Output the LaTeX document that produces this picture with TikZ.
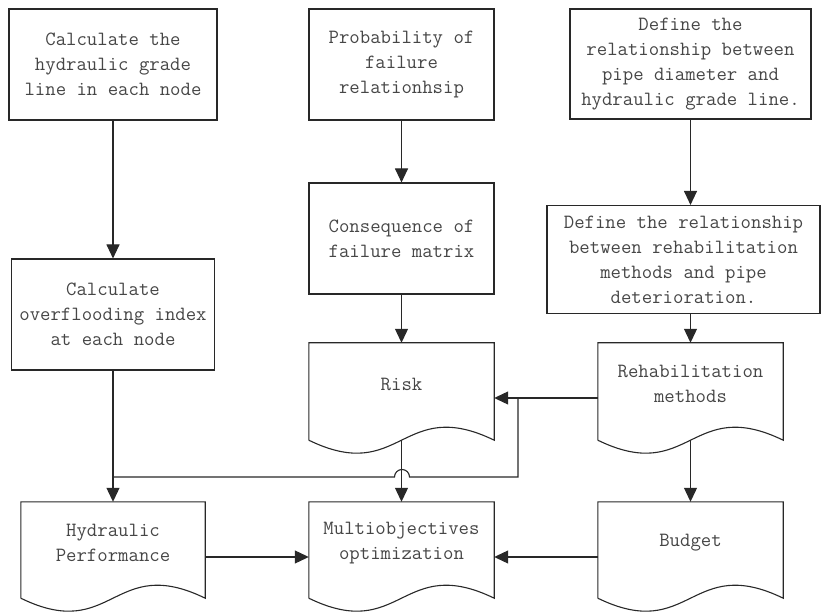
\documentclass[tikz,border=0pt]{standalone}
\usepackage{fontspec}
\usetikzlibrary{arrows.meta,calc}
\definecolor{linec}{RGB}{40,40,40}
\definecolor{textc}{RGB}{70,70,70}
\tikzset{
  box/.style={draw=linec, line width=1.1pt, rectangle, inner sep=0pt, align=center,
    font=\fontsize{20.2}{25}\selectfont\ttfamily, text=textc},
  docframe/.style={rectangle, inner sep=0pt},
  doctext/.style={inner sep=0pt, align=center, font=\fontsize{20.2}{25}\selectfont\ttfamily, text=textc},
  conn/.style={draw=linec, line width=1.1pt},
  arr/.style={conn, -{Triangle[width=13pt,length=14pt]}},
}
\newcommand{\docoutline}[1]{%
  \draw[conn] (#1.south west) -- (#1.north west) -- (#1.north east) -- (#1.south east)
    .. controls ($(#1.south)+(0,-45)$) and ($(#1.south)+(0,45)$) .. (#1.south west);}
\begin{document}
\begin{tikzpicture}[x=1pt,y=-1pt]
\useasboundingbox (0,0) rectangle (822,612);
% rectangles
\node[box, minimum width=208pt, minimum height=111pt] (b1) at (113,64.5)
  {Calculate the\\hydraulic grade\\line in each node};
\node[box, minimum width=185pt, minimum height=111pt] (b2) at (401.5,64.5)
  {Probability of\\failure\\relationhsip};
\node[box, minimum width=241pt, minimum height=110pt] (b3) at (690.5,64)
  {Define the\\relationship between\\pipe diameter and\\hydraulic grade line.};
\node[box, minimum width=273pt, minimum height=108pt] (b4) at (683.5,259.5)
  {Define the relationship\\between rehabilitation\\methods and pipe\\deterioration.};
\node[box, minimum width=185pt, minimum height=111pt] (cons) at (401.5,238.5)
  {Consequence of\\failure matrix};
\node[box, minimum width=203pt, minimum height=111pt] (over) at (113,314.5)
  {Calculate\\overflooding index\\at each node};
% documents
\node[docframe, minimum width=185pt, minimum height=97pt] (risk) at (401.5,391.5) {};
\node[docframe, minimum width=185pt, minimum height=97pt] (rehab) at (690.5,391.5) {};
\node[docframe, minimum width=184pt, minimum height=96pt] (hp) at (113,550) {};
\node[docframe, minimum width=185pt, minimum height=96pt] (multi) at (401.5,550) {};
\node[docframe, minimum width=185pt, minimum height=96pt] (budget) at (690.5,550) {};
\docoutline{risk}
\docoutline{rehab}
\docoutline{hp}
\docoutline{multi}
\docoutline{budget}
\node[doctext] (riskt) at (401.5,384) {Risk};
\node[doctext] (rehabt) at (690.5,384) {Rehabilitation\\methods};
\node[doctext] (hpt) at (113,543) {Hydraulic\\Performance};
\node[doctext] (multit) at (401.5,543) {Multiobjectives\\optimization};
\node[doctext] (budgett) at (690.5,543) {Budget};
% coordinates
\coordinate (j1) at (518,398);
\coordinate (j2) at (518,477);
\coordinate (j3) at (113,477);
\coordinate (jr) at (409.5,477);
\coordinate (jl) at (394.5,477);
\coordinate (hy) at (0,557);
% connectors
\draw[arr] (b1.south) -- (over.north);
\draw[arr] (b2.south) -- (cons.north);
\draw[arr] (b3.south) -- (b3.south |- b4.north);
\draw[arr] (cons.south) -- (risk.north);
\draw[arr] (b3.south |- b4.south) -- (rehab.north);
\draw[arr] (over.south) -- (hp.north);
\draw[conn] (rehab.west |- j1) -- (j1);
\draw[arr] (j1) -- (risk.east |- j1);
\draw[conn] (j1) -- (j2) -- (jr) arc[start angle=0, end angle=-180, radius=7.5] -- (j3);
\draw[arr] (risk.south) -- (multi.north);
\draw[arr] (rehab.south) -- (budget.north);
\draw[arr] (hp.east |- hy) -- (multi.west |- hy);
\draw[arr] (budget.west |- hy) -- (multi.east |- hy);
\end{tikzpicture}
\end{document}
